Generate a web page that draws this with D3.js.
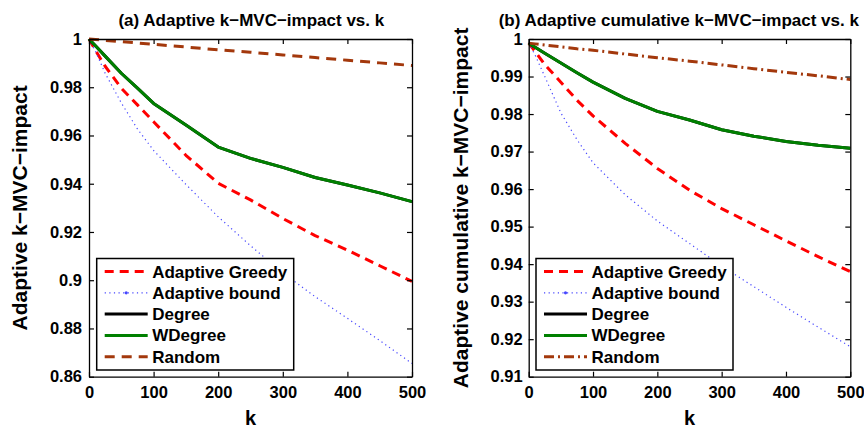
<!DOCTYPE html>
<html><head><meta charset="utf-8">
<script src="https://cdn.jsdelivr.net/npm/d3@7"></script>
<style>
body{margin:0;background:#fff;}
svg{display:block;font-family:"Liberation Sans",Arial,Helvetica,sans-serif;font-weight:bold;}
</style></head>
<body><svg id="c" width="864" height="432"></svg>
<script>
// ---------- data ----------
const kValues = [0, 10, 25, 50, 75, 100, 150, 200, 250, 300, 350, 400, 450, 500];
const seriesNames = ["Adaptive Greedy", "Adaptive bound", "Degree", "WDegree", "Random"];

// (a) Adaptive k-MVC-impact
const aGreedy  = [1, 0.9953, 0.9887, 0.9796, 0.9727, 0.9657, 0.9518, 0.9402, 0.9333, 0.9256, 0.9185, 0.9125, 0.9060, 0.8995];
const aBound   = [1, 0.9950, 0.9858, 0.9735, 0.9627, 0.9538, 0.9397, 0.9263, 0.9143, 0.9031, 0.8932, 0.8842, 0.8750, 0.8655];
const aDegree  = [1, 0.9972, 0.9929, 0.9858, 0.9796, 0.9733, 0.9643, 0.9552, 0.9505, 0.9468, 0.9426, 0.9395, 0.9362, 0.9326];
const aWDegree = [1, 0.9972, 0.9929, 0.9858, 0.9796, 0.9733, 0.9643, 0.9552, 0.9505, 0.9468, 0.9426, 0.9395, 0.9362, 0.9326];
const aRandom  = [1, 0.9998, 0.99945, 0.9989, 0.99835, 0.9978, 0.9967, 0.9955, 0.9945, 0.9934, 0.9923, 0.9912, 0.9901, 0.9890];

// (b) Adaptive cumulative k-MVC-impact
const bGreedy  = [0.9989, 0.9967, 0.9932, 0.9885, 0.9837, 0.9795, 0.9722, 0.9655, 0.9597, 0.9548, 0.9505, 0.9462, 0.9420, 0.9380];
const bBound   = [0.9989, 0.9957, 0.9900, 0.9803, 0.9732, 0.9670, 0.9585, 0.9515, 0.9455, 0.9395, 0.9340, 0.9285, 0.9232, 0.9180];
const bDegree  = [0.9989, 0.9978, 0.9962, 0.9936, 0.9910, 0.9885, 0.9842, 0.9807, 0.9784, 0.9758, 0.9741, 0.9727, 0.9717, 0.9709];
const bWDegree = [0.9989, 0.9978, 0.9962, 0.9936, 0.9910, 0.9885, 0.9842, 0.9807, 0.9784, 0.9758, 0.9741, 0.9727, 0.9717, 0.9709];
const bRandom  = [0.9989, 0.9987, 0.9984, 0.9979, 0.9974, 0.9970, 0.9960, 0.9950, 0.9941, 0.9931, 0.9921, 0.9911, 0.9902, 0.9892];

const xTicks = [0, 100, 200, 300, 400, 500];
const aYTicks = [0.86, 0.88, 0.9, 0.92, 0.94, 0.96, 0.98, 1];
const bYTicks = [0.91, 0.92, 0.93, 0.94, 0.95, 0.96, 0.97, 0.98, 0.99, 1];

const titles = ["(a) Adaptive k\u2212MVC\u2212impact vs. k", "(b) Adaptive cumulative k\u2212MVC\u2212impact vs. k"];
const yLabels = ["Adaptive k\u2212MVC\u2212impact", "Adaptive cumulative k\u2212MVC\u2212impact"];
const xLabel = "k";

// ---------- styles ----------
const styles = [
  {color:"#ff0000", width:3,   dash:"9,6"},
  {color:"#4646ff", width:1.2, dash:"1.2,3.4"},
  {color:"#000000", width:3,   dash:null},
  {color:"#008000", width:3,   dash:null},
  null
];
const randomStyles = [
  {color:"#a3380c", width:3, dash:"10,7"},
  {color:"#a3380c", width:3, dash:"10,4,2,4"}
];

const panels = [
  {series:[aGreedy,aBound,aDegree,aWDegree,aRandom], yDomain:[0.86,1], yTicks:aYTicks,
   x0:89, x1:412, titleX:251.3, yLabelX:27, legX:96.7, padY:7},
  {series:[bGreedy,bBound,bDegree,bWDegree,bRandom], yDomain:[0.91,1], yTicks:bYTicks,
   x0:528.7, x1:850.3, titleX:678.8, yLabelX:468, legX:536, padY:6}
];
const yTop = 39, yBot = 376.7;
const svg = d3.select("#c");
const fmt = d => String(+d.toFixed(2));

panels.forEach((p, pi) => {
  const x = d3.scaleLinear().domain([0,500]).range([p.x0, p.x1]);
  const y = d3.scaleLinear().domain(p.yDomain).range([yBot, yTop]);
  const g = svg.append("g");

  // lines
  const line = d3.line().x((d,i)=>x(kValues[i])).y(d=>y(d));
  p.series.forEach((vals, si) => {
    const st = si === 4 ? randomStyles[pi] : styles[si];
    g.append("path").datum(vals).attr("d", line)
      .attr("fill","none").attr("stroke", st.color).attr("stroke-width", st.width)
      .attr("stroke-dasharray", st.dash).attr("stroke-linejoin","round");
  });

  // axes
  const axStyle = sel => {
    sel.select(".domain").attr("stroke","#000").attr("stroke-width",1.3);
    sel.selectAll(".tick line").attr("stroke","#000").attr("stroke-width",1.2);
    sel.selectAll("text").attr("font-size","16.5px").attr("font-weight","bold")
      .attr("font-family","'Liberation Sans',Arial,sans-serif").attr("fill","#000");
  };
  g.append("g").attr("transform",`translate(0,${yBot})`)
    .call(d3.axisBottom(x).tickValues(xTicks).tickSizeInner(-5).tickSizeOuter(0).tickPadding(10).tickFormat(d3.format("d")))
    .call(axStyle);
  g.append("g").attr("transform",`translate(0,${yTop})`)
    .call(d3.axisTop(x).tickValues(xTicks).tickSizeInner(-5).tickSizeOuter(0).tickFormat(""))
    .call(axStyle);
  g.append("g").attr("transform",`translate(${p.x0},0)`)
    .call(d3.axisLeft(y).tickValues(p.yTicks).tickSizeInner(-5).tickSizeOuter(0).tickPadding(p.padY).tickFormat(fmt))
    .call(axStyle);
  g.append("g").attr("transform",`translate(${p.x1},0)`)
    .call(d3.axisRight(y).tickValues(p.yTicks).tickSizeInner(-5).tickSizeOuter(0).tickFormat(""))
    .call(axStyle);

  // title & labels
  g.append("text").attr("x", p.titleX).attr("y", 26).attr("text-anchor","middle")
    .attr("font-size","17px").text(titles[pi]);
  g.append("text").attr("transform",`translate(${p.yLabelX},${(yTop+yBot)/2}) rotate(-90)`)
    .attr("text-anchor","middle").attr("font-size","21px").text(yLabels[pi]);
  g.append("text").attr("x",(p.x0+p.x1)/2).attr("y",425).attr("text-anchor","middle")
    .attr("font-size","20px").text(xLabel);

  // legend
  const lx = p.legX, ly = 258.5, lw = 197, lh = 111.5;
  const lg = g.append("g");
  lg.append("rect").attr("x",lx).attr("y",ly).attr("width",lw).attr("height",lh)
    .attr("fill","#fff").attr("stroke","#000").attr("stroke-width",1.5);
  seriesNames.forEach((name, si) => {
    const st = si === 4 ? randomStyles[pi] : styles[si];
    const cy = ly + 13 + si*21.3;
    lg.append("line").attr("x1",lx+8).attr("x2",lx+51).attr("y1",cy).attr("y2",cy)
      .attr("stroke",st.color).attr("stroke-width",st.width).attr("stroke-dasharray",st.dash);
    if (si === 1) lg.append("circle").attr("cx",lx+29.5).attr("cy",cy).attr("r",1.6).attr("fill",st.color);
    lg.append("text").attr("x",lx+55.5).attr("y",cy+6).attr("font-size","17px").text(name);
  });
});
</script></body></html>
